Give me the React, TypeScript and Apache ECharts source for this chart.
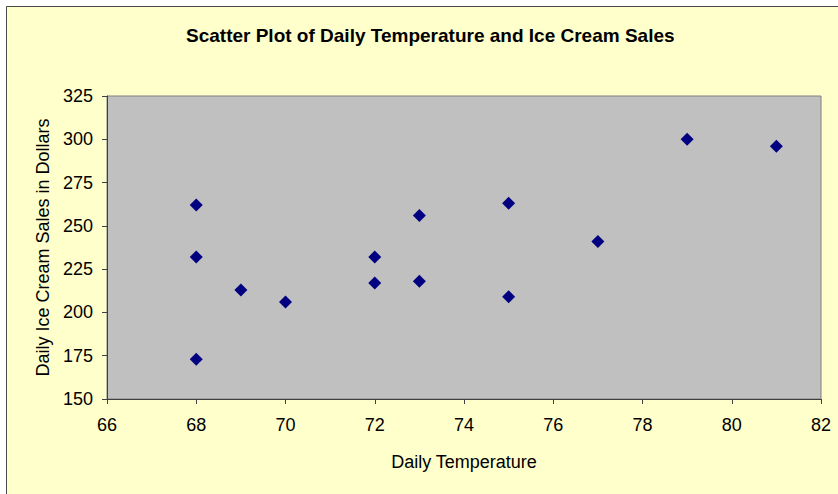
import React, { useEffect, useRef } from "react";
import * as echarts from "echarts";

const temperatures = [68, 68, 68, 69, 70, 72, 72, 73, 73, 75, 75, 77, 79, 81];
const sales = [262, 232, 173, 213, 206, 232, 217, 256, 218, 263, 209, 241, 300, 296];

const titleText = "Scatter Plot of Daily Temperature and Ice Cream Sales";
const xName = "Daily Temperature";
const yName = "Daily Ice Cream Sales in Dollars";

const FONT = "'Liberation Sans', Arial, sans-serif";

export default function App() {
  const ref = useRef<HTMLDivElement>(null);
  useEffect(() => {
    if (!ref.current) return;
    const chart = echarts.init(ref.current, null, { renderer: "svg" });
    const points = temperatures.map((t, i) => [t, sales[i]]);
    chart.setOption({
      animation: false,
      backgroundColor: "#ffffff",
      graphic: [
        {
          type: "rect",
          z: -10,
          silent: true,
          shape: { x: 6.5, y: 6.5, width: 840, height: 500 },
          style: { fill: "#FFFFCC", stroke: "#4a4a4a", lineWidth: 1 },
        },
      ],
      title: {
        text: titleText,
        left: 181,
        top: 21,
        textStyle: {
          fontFamily: FONT,
          fontSize: 19,
          fontWeight: "bold",
          color: "#000000",
        },
      },
      grid: {
        left: 107,
        top: 96,
        right: 17,
        bottom: 95,
        show: true,
        backgroundColor: "#C0C0C0",
        borderColor: "#808080",
        borderWidth: 1,
      },
      xAxis: {
        type: "value",
        min: 66,
        max: 82,
        interval: 2,
        name: xName,
        nameLocation: "middle",
        nameGap: 54,
        nameTextStyle: { fontFamily: FONT, fontSize: 18, color: "#000" },
        axisLine: { show: true, lineStyle: { color: "#404040", width: 1 } },
        axisTick: { show: true, length: 5, lineStyle: { color: "#404040" } },
        axisLabel: { fontFamily: FONT, fontSize: 18, color: "#000", margin: 17 },
        splitLine: { show: false },
      },
      yAxis: {
        type: "value",
        min: 150,
        max: 325,
        interval: 25,
        name: yName,
        nameLocation: "middle",
        nameGap: 54,
        nameTextStyle: { fontFamily: FONT, fontSize: 18, color: "#000" },
        axisLine: { show: true, lineStyle: { color: "#404040", width: 1 } },
        axisTick: { show: true, length: 5, lineStyle: { color: "#404040" } },
        axisLabel: { fontFamily: FONT, fontSize: 18, color: "#000", margin: 14 },
        splitLine: { show: false },
      },
      series: [
        {
          type: "scatter",
          data: points,
          symbol: "diamond",
          symbolSize: 13,
          itemStyle: { color: "#000080", opacity: 1 },
        },
      ],
    });
    return () => chart.dispose();
  }, []);
  return (
    <div
      ref={ref}
      style={{ position: "absolute", left: 0, top: 0, width: 838, height: 494 }}
    />
  );
}
